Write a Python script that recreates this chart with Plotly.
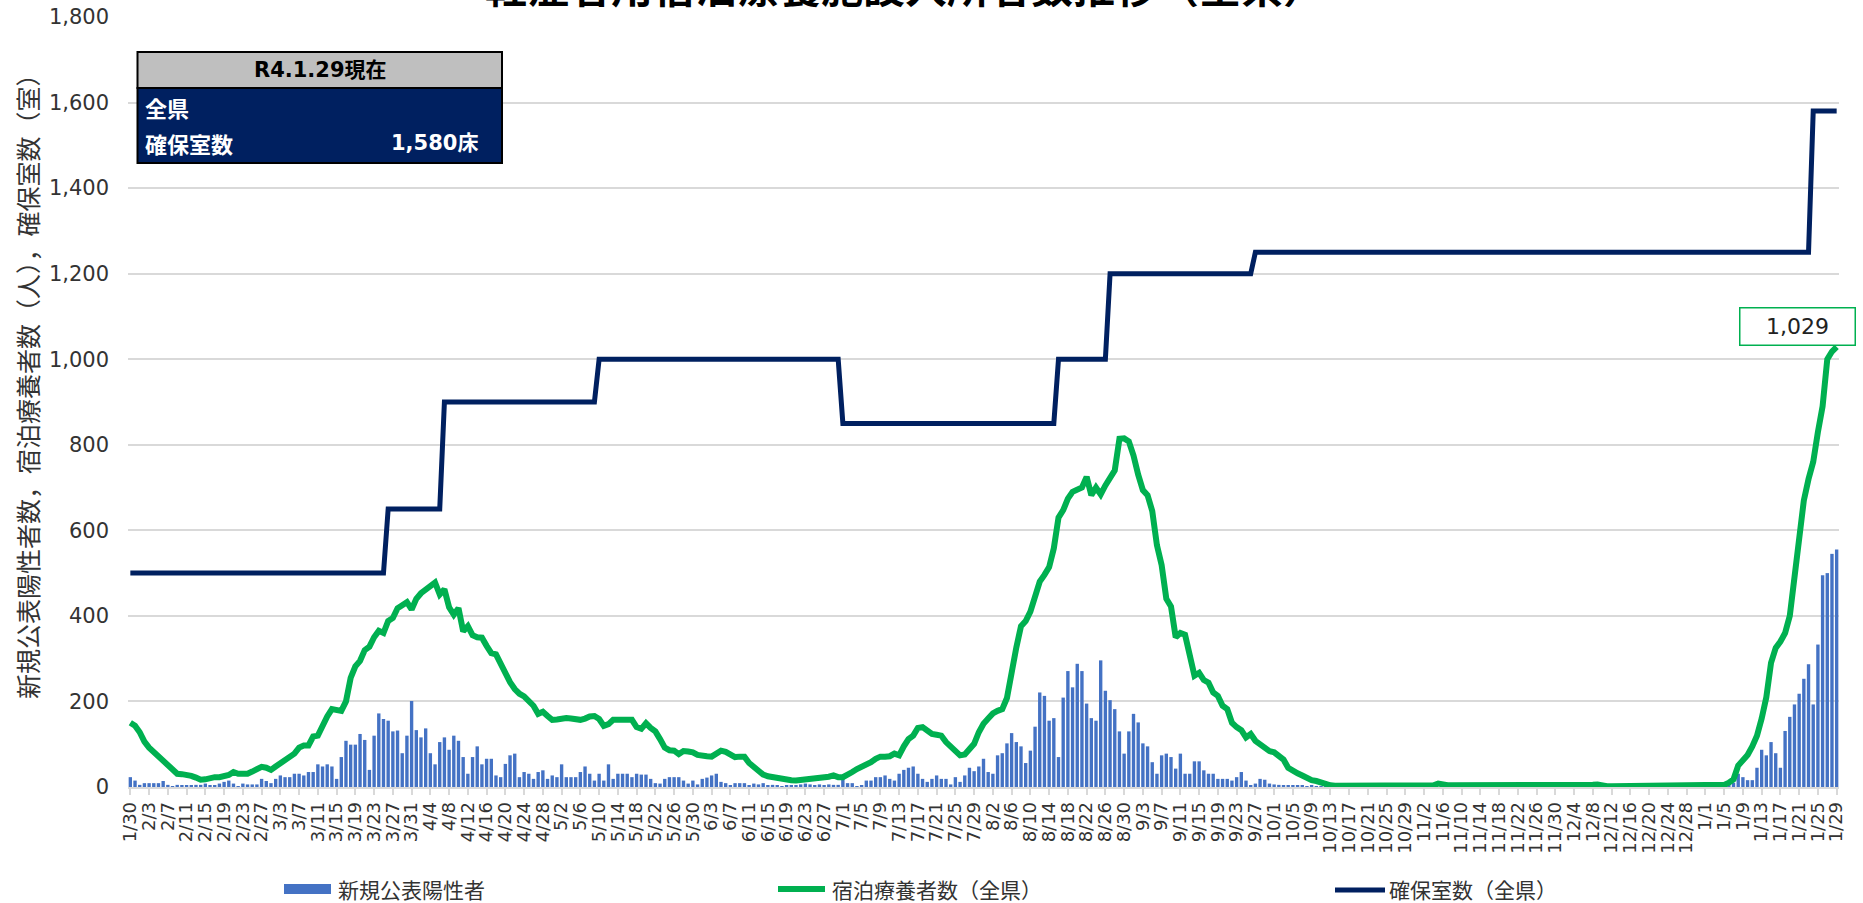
import plotly.graph_objects as go
import pandas as pd

# ---------------- data ----------------
dates = pd.date_range("2021-01-30", "2022-01-29", freq="D")

new_cases = [
    23, 15, 5, 9, 9, 9, 9, 14, 5, 2,
    5, 4, 4, 4, 5, 5, 8, 4, 4, 8,
    12, 15, 8, 2, 8, 6, 6, 6, 19, 14,
    9, 19, 27, 23, 23, 31, 31, 27, 35, 35,
    53, 48, 53, 48, 19, 70, 108, 99, 99, 124,
    110, 40, 120, 172, 159, 155, 130, 132, 79, 120,
    201, 133, 116, 137, 79, 53, 105, 116, 87, 120,
    108, 70, 31, 70, 95, 53, 66, 66, 27, 23,
    54, 74, 78, 23, 35, 31, 19, 35, 39, 19,
    27, 23, 53, 23, 23, 23, 35, 48, 31, 15,
    31, 15, 53, 19, 31, 31, 31, 23, 31, 29,
    29, 19, 9, 8, 19, 23, 23, 23, 15, 8,
    15, 6, 19, 22, 27, 31, 12, 9, 4, 9,
    9, 9, 4, 8, 6, 9, 4, 5, 3, 2,
    4, 3, 3, 6, 8, 6, 4, 6, 4, 6,
    5, 5, 19, 9, 9, 2, 4, 15, 15, 23,
    23, 27, 19, 15, 31, 40, 45, 48, 31, 19,
    12, 19, 27, 19, 19, 6, 23, 12, 27, 45,
    37, 48, 66, 35, 31, 74, 79, 102, 126, 105,
    95, 56, 85, 141, 221, 213, 155, 161, 70, 209,
    271, 233, 288, 271, 195, 161, 155, 296, 225, 203,
    182, 130, 78, 130, 171, 151, 102, 95, 58, 31,
    74, 78, 70, 43, 78, 31, 31, 60, 60, 39,
    31, 31, 19, 19, 19, 15, 23, 35, 15, 4,
    8, 19, 17, 8, 6, 5, 3, 4, 3, 4,
    3, 2, 4, 1, 2, 1, 0, 1, 2, 1,
    0, 1, 0, 1, 1, 0, 2, 0, 1, 0,
    1, 1, 0, 0, 1, 0, 1, 2, 1, 0,
    0, 1, 0, 0, 1, 0, 0, 1, 0, 0,
    0, 0, 1, 0, 0, 0, 0, 0, 1, 0,
    0, 0, 0, 1, 0, 0, 0, 0, 0, 0,
    1, 0, 0, 0, 0, 1, 0, 0, 0, 0,
    0, 0, 0, 0, 1, 0, 0, 0, 0, 0,
    0, 0, 1, 0, 0, 1, 0, 1, 2, 2,
    3, 6, 10, 31, 23, 16, 16, 45, 87, 74,
    105, 79, 45, 131, 164, 193, 218, 253, 287, 193,
    333, 495, 500, 545, 555,
]

hotel_patients = [
    150, 143, 128, 106, 92, 82, 68, 58, 50, 40,
    31, 30, 29, 26, 22, 17, 18, 22, 23, 23,
    26, 28, 35, 31, 31, 31, 36, 41, 47, 45,
    40, 48, 55, 65, 72, 78, 92, 97, 97, 118,
    120, 145, 165, 182, 180, 178, 200, 255, 282, 295,
    320, 328, 350, 365, 360, 388, 395, 418, 425, 432,
    415, 440, 453, 460, 468, 478, 450, 462, 420, 403,
    418, 364, 376, 355, 350, 349, 330, 313, 310, 288,
    264, 245, 229, 218, 212, 200, 190, 171, 176, 166,
    157, 158, 160, 161, 160, 159, 157, 160, 165, 166,
    159, 143, 147, 157, 158, 157, 157, 157, 140, 136,
    149, 138, 130, 112, 92, 86, 85, 77, 84, 83,
    81, 75, 75, 72, 71, 80, 85, 82, 76, 70,
    71, 71, 56, 47, 42, 29, 25, 23, 20, 17,
    16, 16, 15, 16, 18, 20, 21, 22, 22, 24,
    27, 23, 23, 28, 35, 42, 47, 50, 58, 66,
    71, 71, 72, 78, 74, 95, 112, 120, 138, 140,
    130, 124, 122, 120, 105, 95, 84, 74, 76, 88,
    101, 128, 148, 160, 172, 178, 182, 208, 271, 326,
    376, 388, 410, 450, 480, 496, 514, 558, 630, 647,
    674, 690, 696, 700, 725, 682, 700, 684, 705, 722,
    740, 814, 815, 808, 775, 730, 694, 682, 645, 565,
    519, 440, 422, 350, 360, 356, 300, 260, 267, 250,
    244, 221, 213, 190, 182, 150, 140, 133, 116, 124,
    108, 100, 88, 84, 81, 72, 64, 45, 37, 32,
    27, 20, 16, 14, 10, 6, 4, 3, 3, 3,
    3, 3, 3, 3, 3, 3, 3, 3, 3, 3,
    3, 4, 4, 4, 4, 4, 4, 4, 4, 8,
    5, 4, 4, 4, 4, 4, 4, 2, 2, 2,
    2, 2, 2, 2, 2, 2, 2, 2, 2, 2,
    2, 2, 2, 2, 2, 2, 2, 2, 2, 2,
    2, 2, 5, 6, 3, 2, 2, 2, 2, 2,
    2, 2, 2, 2, 2, 2, 2, 2, 2, 2,
    2, 2, 2, 2, 2, 2, 2, 2, 3, 4,
    5, 10, 18, 50, 62, 75, 95, 120, 160, 210,
    290, 325, 340, 360, 400, 490, 590, 670, 720, 760,
    830, 890, 1000, 1018, 1029,
]

secured_rooms = [
    500, 500, 500, 500, 500, 500, 500, 500, 500, 500,
    500, 500, 500, 500, 500, 500, 500, 500, 500, 500,
    500, 500, 500, 500, 500, 500, 500, 500, 500, 500,
    500, 500, 500, 500, 500, 500, 500, 500, 500, 500,
    500, 500, 500, 500, 500, 500, 500, 500, 500, 500,
    500, 500, 500, 500, 500, 650, 650, 650, 650, 650,
    650, 650, 650, 650, 650, 650, 650, 900, 900, 900,
    900, 900, 900, 900, 900, 900, 900, 900, 900, 900,
    900, 900, 900, 900, 900, 900, 900, 900, 900, 900,
    900, 900, 900, 900, 900, 900, 900, 900, 900, 900,
    1000, 1000, 1000, 1000, 1000, 1000, 1000, 1000, 1000, 1000,
    1000, 1000, 1000, 1000, 1000, 1000, 1000, 1000, 1000, 1000,
    1000, 1000, 1000, 1000, 1000, 1000, 1000, 1000, 1000, 1000,
    1000, 1000, 1000, 1000, 1000, 1000, 1000, 1000, 1000, 1000,
    1000, 1000, 1000, 1000, 1000, 1000, 1000, 1000, 1000, 1000,
    1000, 1000, 850, 850, 850, 850, 850, 850, 850, 850,
    850, 850, 850, 850, 850, 850, 850, 850, 850, 850,
    850, 850, 850, 850, 850, 850, 850, 850, 850, 850,
    850, 850, 850, 850, 850, 850, 850, 850, 850, 850,
    850, 850, 850, 850, 850, 850, 850, 850, 1000, 1000,
    1000, 1000, 1000, 1000, 1000, 1000, 1000, 1000, 1000, 1200,
    1200, 1200, 1200, 1200, 1200, 1200, 1200, 1200, 1200, 1200,
    1200, 1200, 1200, 1200, 1200, 1200, 1200, 1200, 1200, 1200,
    1200, 1200, 1200, 1200, 1200, 1200, 1200, 1200, 1200, 1200,
    1250, 1250, 1250, 1250, 1250, 1250, 1250, 1250, 1250, 1250,
    1250, 1250, 1250, 1250, 1250, 1250, 1250, 1250, 1250, 1250,
    1250, 1250, 1250, 1250, 1250, 1250, 1250, 1250, 1250, 1250,
    1250, 1250, 1250, 1250, 1250, 1250, 1250, 1250, 1250, 1250,
    1250, 1250, 1250, 1250, 1250, 1250, 1250, 1250, 1250, 1250,
    1250, 1250, 1250, 1250, 1250, 1250, 1250, 1250, 1250, 1250,
    1250, 1250, 1250, 1250, 1250, 1250, 1250, 1250, 1250, 1250,
    1250, 1250, 1250, 1250, 1250, 1250, 1250, 1250, 1250, 1250,
    1250, 1250, 1250, 1250, 1250, 1250, 1250, 1250, 1250, 1250,
    1250, 1250, 1250, 1250, 1250, 1250, 1250, 1250, 1250, 1250,
    1250, 1250, 1250, 1250, 1250, 1250, 1250, 1250, 1250, 1250,
    1250, 1250, 1250, 1250, 1250, 1250, 1250, 1250, 1250, 1580,
    1580, 1580, 1580, 1580, 1580,
]

assert len(new_cases) == len(hotel_patients) == len(secured_rooms) == len(dates)

title_text = "軽症者用宿泊療養施設入所者数推移（全県）"
y_title = "新規公表陽性者数，宿泊療養者数（人），確保室数（室）"
series_names = ["新規公表陽性者", "宿泊療養者数（全県）", "確保室数（全県）"]
box_header = "R4.1.29現在"
box_area = "全県"
box_label = "確保室数"
box_value = "1,580床"

# ---------------- styling ----------------
C_BAR = "#4472C4"
C_GREEN = "#00B050"
C_NAVY = "#002060"
C_GRID = "#D9D9D9"
C_TEXT = "#333333"
JP = "Noto Sans CJK JP"
NUM = "DejaVu Sans"

W, H = 1863, 903
ML, MR, MT, MB = 128, 24, 17, 116
PW = W - ML - MR
PH = H - MT - MB


def px(x):
    return (x - ML) / PW


def py(y):
    return (H - MB - y) / PH


fig = go.Figure()
fig.add_trace(go.Bar(x=dates, y=new_cases, name=series_names[0],
                     marker=dict(color=C_BAR, line=dict(width=0))))
fig.add_trace(go.Scatter(x=dates, y=hotel_patients, name=series_names[1], mode="lines",
                         line=dict(color=C_GREEN, width=6)))
fig.add_trace(go.Scatter(x=dates, y=secured_rooms, name=series_names[2], mode="lines",
                         line=dict(color=C_NAVY, width=5)))

half_day = pd.Timedelta(hours=12)
fig.update_xaxes(
    type="date", automargin=False,
    range=[dates[0] - half_day, dates[-1] + half_day],
    tickmode="linear", tick0=dates[0], dtick=4 * 86400000,
    tickformat="%-m/%-d", tickangle=-90,
    ticks="outside", ticklen=6, tickcolor=C_GRID, tickwidth=1.5,
    showline=True, linecolor=C_GRID, linewidth=1.5,
    showgrid=False, zeroline=False,
    tickfont=dict(family=NUM, size=18, color=C_TEXT),
)
fig.update_yaxes(
    range=[0, 1800], dtick=200, tickformat=",", automargin=False,
    showgrid=True, gridcolor=C_GRID, gridwidth=1.5,
    zeroline=False, showline=False, ticks="",
    ticklabelstandoff=18,
    tickfont=dict(family=NUM, size=21, color=C_TEXT),
)

shapes = []
annotations = []

# title (clipped at top like the reference)
annotations.append(dict(xref="paper", yref="paper", x=px(905), y=py(-15),
                        text="<b>" + title_text + "</b>", showarrow=False,
                        xanchor="center", yanchor="middle",
                        font=dict(family=JP, size=42, color="#000000")))
# y axis title
annotations.append(dict(xref="paper", yref="paper", x=px(27), y=py(380),
                        text=y_title, textangle=-90, showarrow=False,
                        xanchor="center", yanchor="middle",
                        font=dict(family=JP, size=25, color=C_TEXT)))

# info box
shapes.append(dict(type="rect", xref="paper", yref="paper",
                   x0=px(137.5), x1=px(502), y0=py(88), y1=py(52),
                   fillcolor="#BFBFBF", line=dict(color="#000000", width=2)))
shapes.append(dict(type="rect", xref="paper", yref="paper",
                   x0=px(137.5), x1=px(502), y0=py(163), y1=py(88),
                   fillcolor=C_NAVY, line=dict(color="#000000", width=2)))
BOXF = "DejaVu Sans, Noto Sans CJK JP"
annotations.append(dict(xref="paper", yref="paper", x=px(320), y=py(70),
                        text="<b>" + box_header + "</b>", showarrow=False,
                        xanchor="center", yanchor="middle",
                        font=dict(family=BOXF, size=21, color="#000000")))
annotations.append(dict(xref="paper", yref="paper", x=px(143), y=py(107),
                        text="<b>" + box_area + "</b>", showarrow=False,
                        xanchor="left", yanchor="middle",
                        font=dict(family=JP, size=22, color="#FFFFFF")))
annotations.append(dict(xref="paper", yref="paper", x=px(143), y=py(143),
                        text="<b>" + box_label + "</b>", showarrow=False,
                        xanchor="left", yanchor="middle",
                        font=dict(family=JP, size=22, color="#FFFFFF")))
annotations.append(dict(xref="paper", yref="paper", x=px(480), y=py(143),
                        text="<b>" + box_value + "</b>", showarrow=False,
                        xanchor="right", yanchor="middle",
                        font=dict(family=BOXF, size=21, color="#FFFFFF")))

# last value label
annotations.append(dict(xref="x", yref="y", x=dates[-1], y=hotel_patients[-1],
                        text=f"{hotel_patients[-1]:,}", showarrow=False,
                        xanchor="center", yanchor="bottom", xshift=-39, yshift=1,
                        width=112, height=34, borderpad=1,
                        bordercolor=C_GREEN, borderwidth=1.5, bgcolor="#FFFFFF",
                        font=dict(family=NUM, size=22, color="#222222")))

# legend (drawn manually)
LY = 889
shapes.append(dict(type="rect", xref="paper", yref="paper",
                   x0=px(284), x1=px(331), y0=py(894), y1=py(884),
                   fillcolor=C_BAR, line=dict(width=0)))
shapes.append(dict(type="line", xref="paper", yref="paper",
                   x0=px(778), x1=px(825), y0=py(LY), y1=py(LY),
                   line=dict(color=C_GREEN, width=6)))
shapes.append(dict(type="line", xref="paper", yref="paper",
                   x0=px(1335), x1=px(1385), y0=py(LY + 1), y1=py(LY + 1),
                   line=dict(color=C_NAVY, width=5)))
for xt, name in zip([336, 830, 1387], series_names):
    annotations.append(dict(xref="paper", yref="paper", x=px(xt), y=py(LY),
                            text=name, showarrow=False,
                            xanchor="left", yanchor="middle",
                            font=dict(family=JP, size=21, color=C_TEXT)))

fig.update_layout(
    width=W, height=H,
    margin=dict(l=ML, r=MR, t=MT, b=MB, pad=0, autoexpand=False),
    paper_bgcolor="#FFFFFF", plot_bgcolor="#FFFFFF",
    showlegend=False, bargap=0.28,
    shapes=shapes, annotations=annotations,
)

fig.write_html(
    "out.html",
    config={"displayModeBar": False},
    post_script="document.body.style.margin='0';document.body.style.overflow='hidden';",
)
